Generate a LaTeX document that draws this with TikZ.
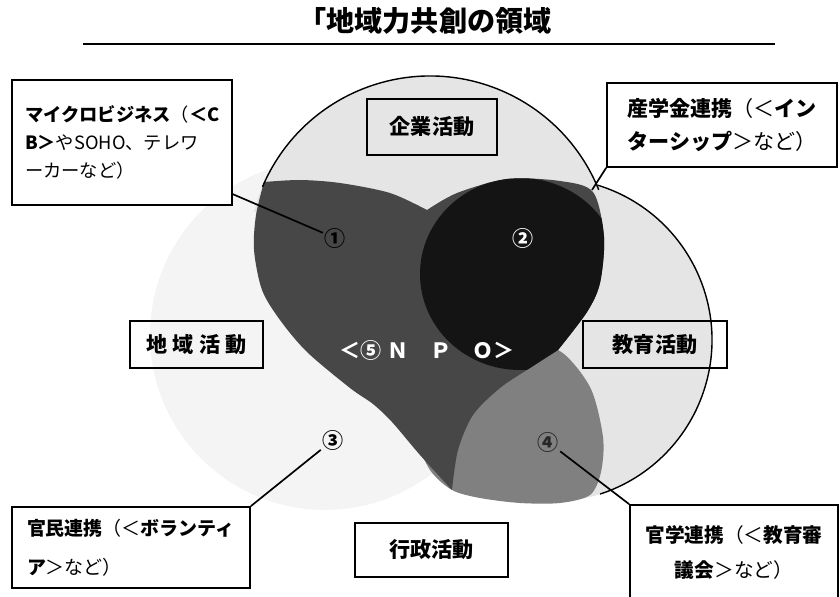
\documentclass[tikz,border=0pt]{standalone}
\usepackage{fontspec}
\setmainfont{Noto Sans CJK JP}
\usepackage{tikz}
\tikzset{
  area/.style={draw, line width=1.2pt, inner sep=0pt, font={\fontsize{15pt}{18pt}\selectfont\bfseries}},
  callout/.style={draw, fill=white, line width=1.2pt, inner ysep=0pt},
  num/.style={inner sep=1pt, font={\fontsize{15pt}{18pt}\selectfont\bfseries}},
  link/.style={line width=1.2pt},
  rim/.style={line width=1pt},
}
\newcommand{\npoblob}{plot[smooth] coordinates {(6.6,-4.55) (7.5,-4.5) (8.5,-4.575) (9.75,-4.825) (10.675,-5.25)}
  -- plot[smooth] coordinates {(10.675,-5.25) (11.425,-4.825) (12.675,-4.475) (14.0,-4.525) (14.825,-4.8) (15.1,-5.925) (15.0,-7.075) (14.675,-7.8) (13.95,-8.75)}
  -- plot[smooth] coordinates {(13.95,-8.75) (13.25,-9.2) (12.5,-9.7) (11.825,-10.375) (11.45,-11.25) (11.3,-12.25)}
  -- plot[smooth] coordinates {(11.3,-12.25) (10.5,-11.375) (9.8,-10.55) (9.325,-10.1) (8.75,-9.7) (7.675,-8.8) (7.0,-8.0) (6.55,-7.25) (6.35,-6.25) (6.4,-5.375) (6.6,-4.55)} -- cycle}

\begin{document}
\begin{tikzpicture}
        \useasboundingbox (0,0) rectangle (21,-14.925);
        \coordinate (ca) at (10.75,-6.45);
        \coordinate (cb) at (13.75,-8.5);
        \coordinate (cc) at (8.125,-8.375);
        \node[font={\fontsize{20pt}{24pt}\selectfont\bfseries}] (title) at (10.625,-0.525) {「地域力共創の領域};
        \draw[line width=1.5pt] (2.075,-1.1) -- (19.375,-1.1);
        \fill[gray!9] (cc) circle (4.375);
        \begin{scope}
          \clip (0,0) rectangle (21,-5.3);
          \fill[gray!20] (ca) circle (4.55);
        \end{scope}
        \fill[gray!20] (cb) circle (4.05);
        \fill[black!50] plot[smooth cycle] coordinates {(13.95,-8.75) (14.75,-9.675) (15.075,-10.925) (15.025,-11.8) (14.75,-12.375) (14.0,-12.575) (13.0,-12.575) (12.0,-12.45) (11.3,-12.25) (10.75,-11.75) (10.5,-11.0) (11.0,-10.0) (12.0,-9.25) (13.0,-8.875)};
        \fill[black!72] \npoblob;
        \begin{scope}
          \clip \npoblob;
          \fill[black!92] (13.0,-6.85) ellipse (2.5 and 2.4);
        \end{scope}
        \draw[rim] ([shift={(157:4.55)}]ca) arc[start angle=157, end angle=22, radius=4.55];
        \draw[rim] ([shift={(73:4.05)}]cb) arc[start angle=73, end angle=-72, radius=4.05];
        \node[area, minimum width=3.25cm, minimum height=1.4cm] (kigyo) at (10.8,-3.175) {企業活動};
        \node[area, minimum width=3.325cm, minimum height=1.175cm] (chiiki) at (4.9125,-8.6125) {地\hspace{.25em}域\hspace{.25em}活\hspace{.25em}動};
        \node[area, minimum width=3.6cm, minimum height=1.175cm] (kyoiku) at (16.375,-8.6125) {教育活動};
        \node[area, minimum width=3.825cm, minimum height=1.35cm] (gyosei) at (10.7875,-13.75) {行政活動};
        \node[num, text=black] (n1) at (8.375,-5.95) {①};
        \node[num, text=white] (n2) at (13.075,-5.95) {②};
        \node[num] (n3) at (8.325,-11.0) {③};
        \node[num, text=black!85] (n4) at (13.7,-11.05) {④};
        \node[num, text=white] (npo) at (10.675,-8.75) {＜⑤\hspace{.3em}Ｎ　Ｐ　Ｏ＞};
        \node[callout, text width=4.85cm, inner xsep=0.325cm, minimum height=3.125cm, align=left, font={\fontsize{13pt}{20pt}\selectfont}] (box1) at (3.05,-3.5625) {{\bfseries マイクロビジネス}（{\bfseries ＜C}\\{\bfseries B＞}やSOHO、テレワ\\ーカーなど）};
        \node[callout, text width=5cm, inner xsep=0.375cm, minimum height=2.1cm, align=center, font={\fontsize{15pt}{24pt}\selectfont}] (box2) at (18.05,-3.125) {{\bfseries 産学金連携}（＜{\bfseries イン}\\{\bfseries ターシップ}＞など）};
        \node[callout, text width=5.2cm, inner xsep=0.375cm, minimum height=2.025cm, align=left, font={\fontsize{13.5pt}{28pt}\selectfont}] (box3) at (3.275,-13.6875) {{\bfseries 官民連携}（＜{\bfseries ボランティ}\\{\bfseries ア}＞など）};
        \node[callout, text width=4.6cm, inner xsep=0.3cm, minimum height=2.375cm, align=center, font={\fontsize{14pt}{25.5pt}\selectfont}] (box4) at (18.35,-13.8125) {{\bfseries 官学連携}（＜{\bfseries 教育審}\\{\bfseries 議会}＞など）};
        \coordinate (j2) at (14.8,-4.75);
        \draw[link] (box1.-25) -- (n1);
        \draw[link] (box2.south west) -- (j2);
        \draw[link] (box3.north east) -- (n3);
        \draw[link] (box4.north west) -- (n4);
\end{tikzpicture}
\end{document}
